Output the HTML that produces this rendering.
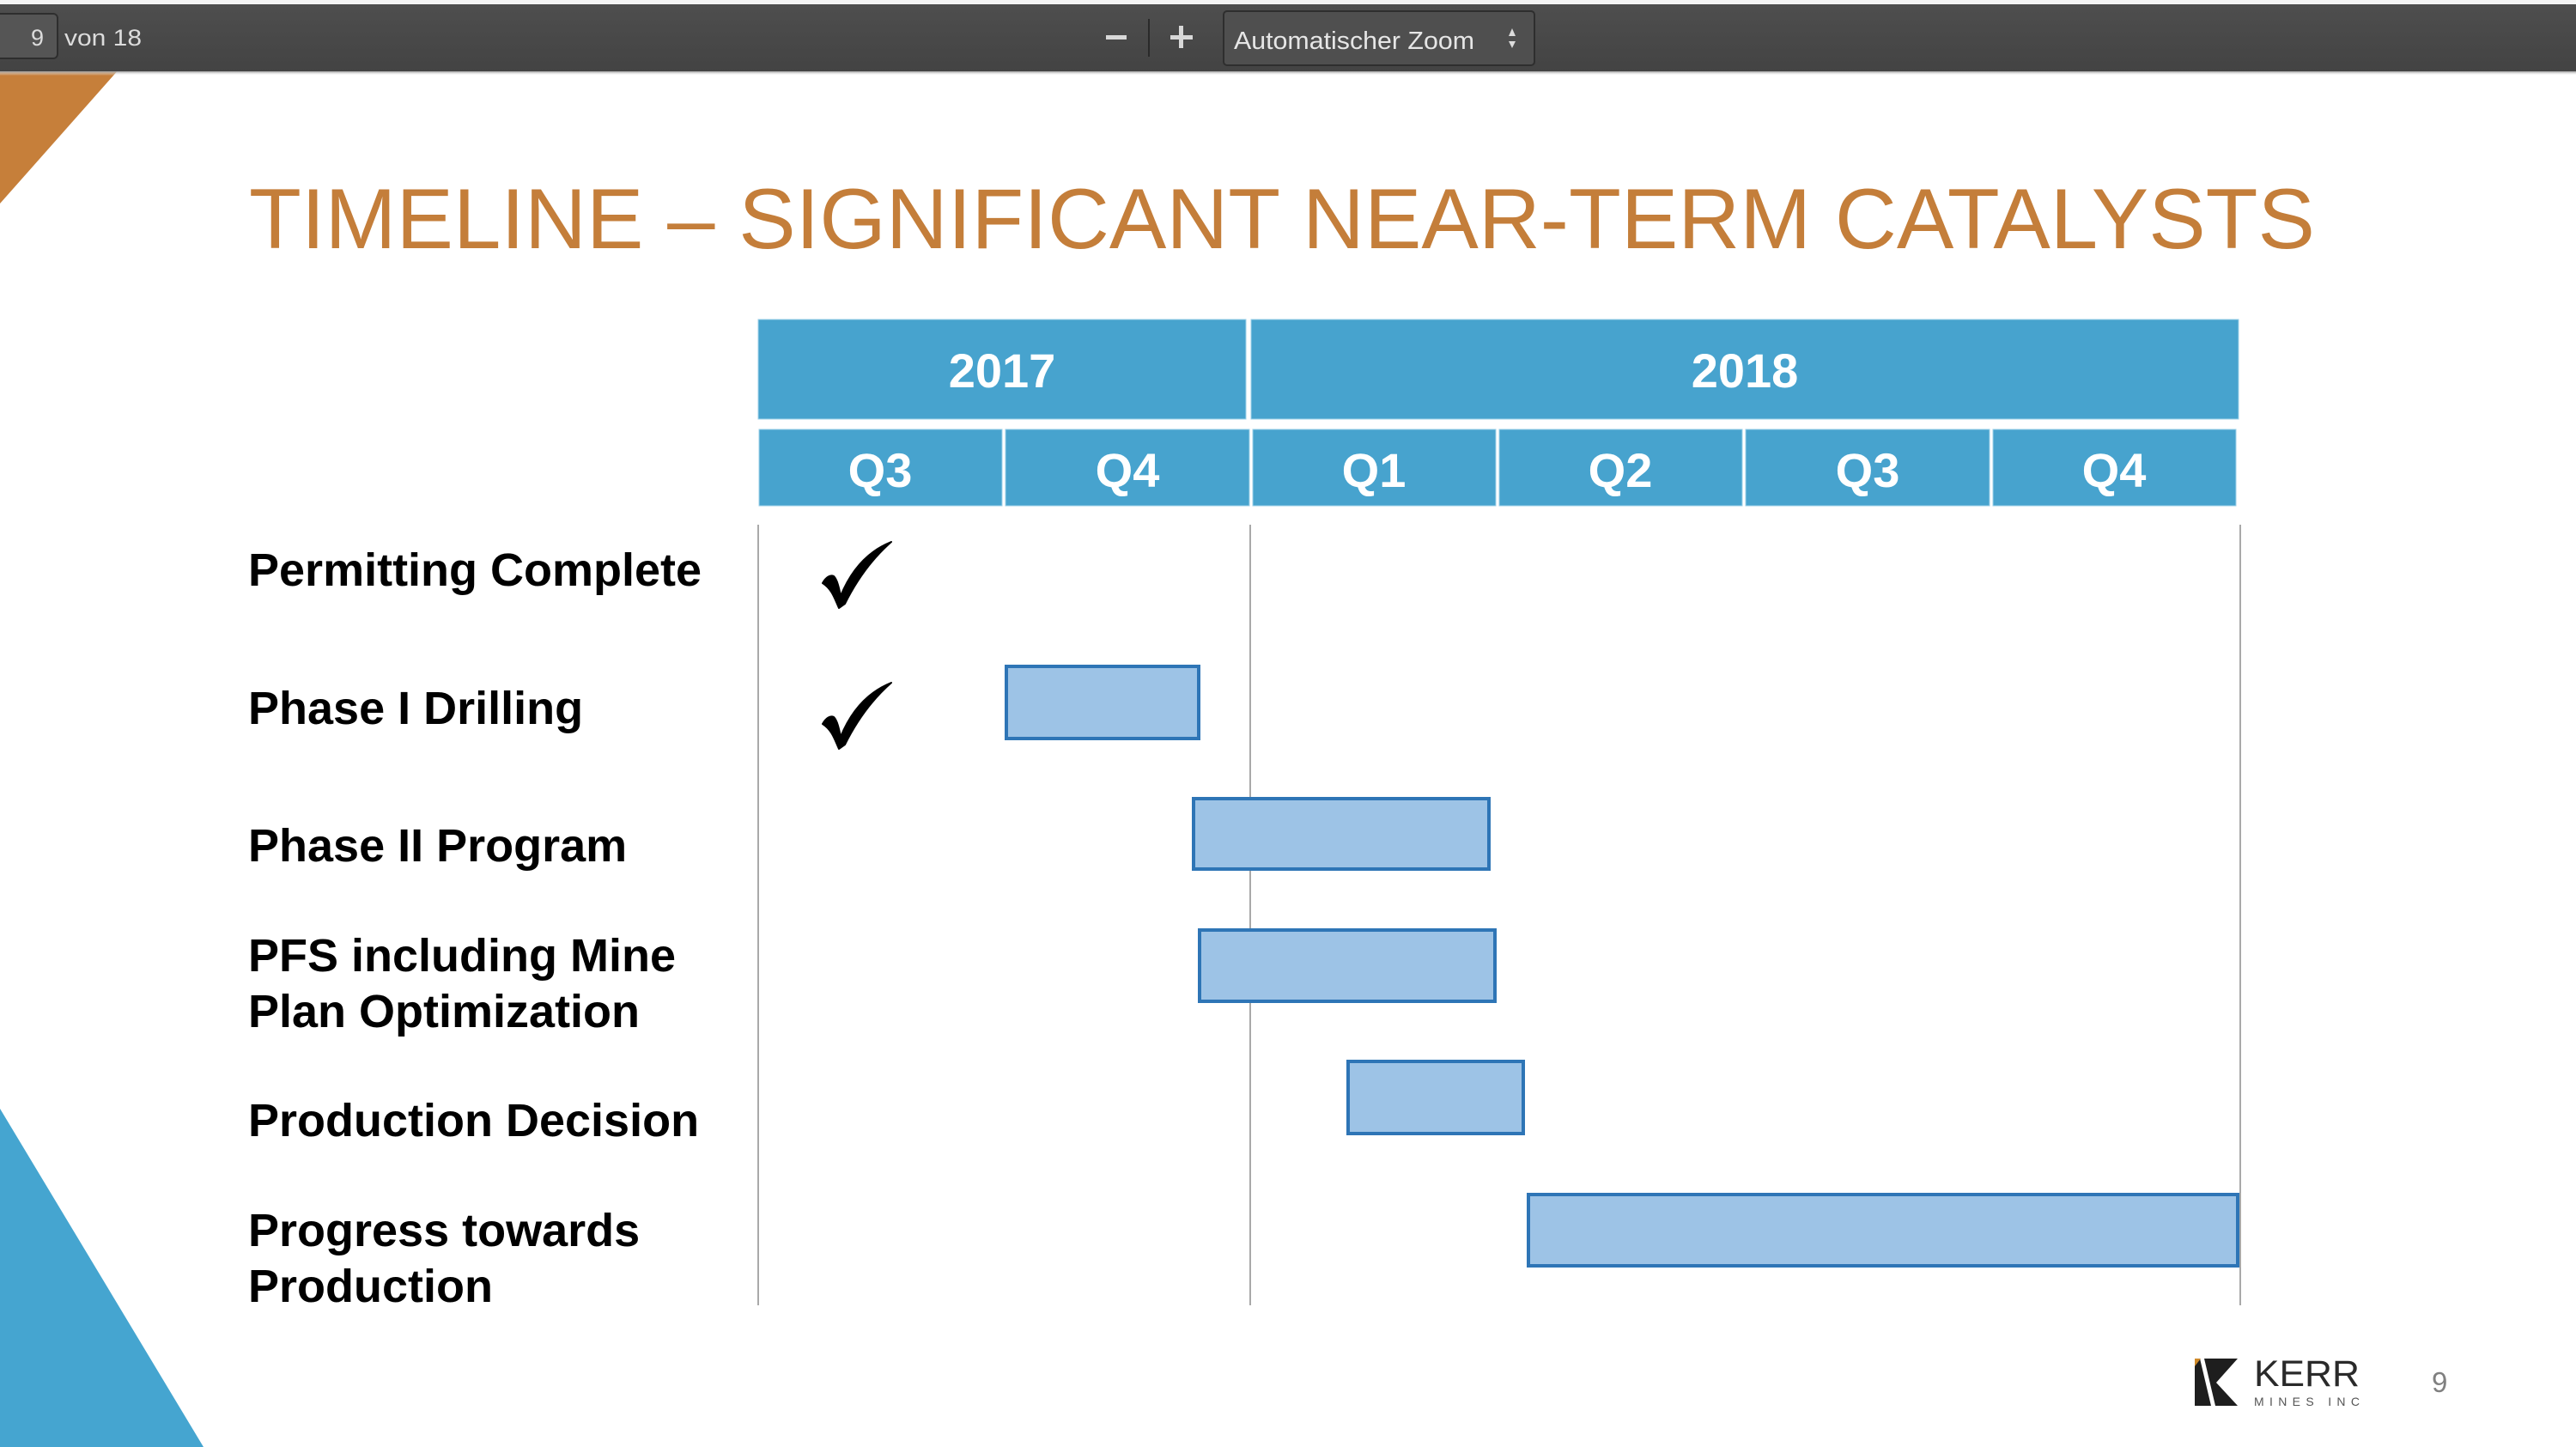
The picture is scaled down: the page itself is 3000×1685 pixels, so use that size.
<!DOCTYPE html>
<html>
<head>
<meta charset="utf-8">
<style>
  html, body { margin:0; padding:0; background:#ffffff; }
  body { width:3000px; height:1685px; overflow:hidden; }
  svg { display:block; }
</style>
</head>
<body>
<svg width="3000" height="1685" viewBox="0 0 3000 1685" xmlns="http://www.w3.org/2000/svg">
  <defs>
    <linearGradient id="tb" x1="0" y1="0" x2="0" y2="1">
      <stop offset="0" stop-color="#4e4e4e"/>
      <stop offset="1" stop-color="#434343"/>
    </linearGradient>
    <linearGradient id="sh" x1="0" y1="0" x2="0" y2="1">
      <stop offset="0" stop-color="#9a9a9a"/>
      <stop offset="1" stop-color="#ffffff" stop-opacity="0"/>
    </linearGradient>
  </defs>

  <!-- background -->
  <rect x="0" y="0" width="3000" height="1685" fill="#ffffff"/>

  <!-- orange corner triangle -->
  <polygon points="0,0 210,0 0,237" fill="#C67F3A"/>
  <!-- blue corner triangle -->
  <polygon points="0,1291 237,1685 0,1685" fill="#45A5D0"/>

  <!-- top light strip -->
  <rect x="0" y="0" width="3000" height="5" fill="#f4f4f4"/>

  <!-- toolbar -->
  <rect x="0" y="5" width="3000" height="78" fill="url(#tb)"/>
  <rect x="0" y="83" width="3000" height="5" fill="url(#sh)"/>
  <rect x="-6" y="16" width="73" height="52" rx="5" ry="5" fill="#555555" stroke="#2e2e2e" stroke-width="2"/>
  <text x="51" y="53" font-family="Liberation Sans, sans-serif" font-size="27" fill="#dcdcdc" text-anchor="end">9</text>
  <text x="75" y="53" font-family="Liberation Sans, sans-serif" font-size="27" fill="#dcdcdc" textLength="90" lengthAdjust="spacingAndGlyphs">von 18</text>

  <!-- zoom controls -->
  <rect x="1288" y="41" width="24" height="5" fill="#d8d8d8"/>
  <rect x="1337" y="22" width="2" height="44" fill="#2a2a2a"/>
  <rect x="1363" y="41" width="26" height="5" fill="#d8d8d8"/>
  <rect x="1373" y="30" width="5" height="26" fill="#d8d8d8"/>
  <rect x="1425" y="13" width="362" height="63" rx="4" ry="4" fill="#4f4f4f" stroke="#2e2e2e" stroke-width="2"/>
  <text x="1437" y="57" font-family="Liberation Sans, sans-serif" font-size="29" fill="#e6e6e6" textLength="280" lengthAdjust="spacingAndGlyphs">Automatischer Zoom</text>
  <polygon points="1757,42 1765,42 1761,33" fill="#dcdcdc"/>
  <polygon points="1757,48 1765,48 1761,56" fill="#dcdcdc"/>

  <!-- title -->
  <text x="290" y="289" font-family="Liberation Sans, Arial, sans-serif" font-size="99" fill="#C47E3A" textLength="2406" lengthAdjust="spacingAndGlyphs">TIMELINE – SIGNIFICANT NEAR-TERM CATALYSTS</text>

  <!-- year header -->
  <rect x="883" y="372" width="568" height="116" fill="#47A3CE" stroke="#9dd0e8" stroke-width="1"/>
  <rect x="1457" y="372" width="1150" height="116" fill="#47A3CE" stroke="#9dd0e8" stroke-width="1"/>
  <g font-family="Liberation Sans, Arial, sans-serif" font-weight="bold" font-size="56" fill="#ffffff" text-anchor="middle">
    <text x="1167" y="451">2017</text>
    <text x="2032" y="451">2018</text>
  </g>

  <!-- quarter header -->
  <g fill="#47A3CE" stroke="#9dd0e8" stroke-width="1">
    <rect x="884" y="500" width="283" height="89"/>
    <rect x="1171" y="500" width="284" height="89"/>
    <rect x="1459" y="500" width="283" height="89"/>
    <rect x="1746" y="500" width="283" height="89"/>
    <rect x="2033" y="500" width="284" height="89"/>
    <rect x="2321" y="500" width="283" height="89"/>
  </g>
  <g font-family="Liberation Sans, Arial, sans-serif" font-weight="bold" font-size="56" fill="#ffffff" text-anchor="middle">
    <text x="1025" y="567">Q3</text>
    <text x="1313" y="567">Q4</text>
    <text x="1600" y="567">Q1</text>
    <text x="1887" y="567">Q2</text>
    <text x="2175" y="567">Q3</text>
    <text x="2462" y="567">Q4</text>
  </g>

  <!-- grid lines -->
  <g stroke="#a9a9a9" stroke-width="2">
    <line x1="883" y1="611" x2="883" y2="1520"/>
    <line x1="1456" y1="611" x2="1456" y2="1520"/>
    <line x1="2609" y1="611" x2="2609" y2="1520"/>
  </g>

  <!-- row labels -->
  <g font-family="Liberation Sans, Arial, sans-serif" font-weight="bold" font-size="54" fill="#000000">
    <text x="289" y="682">Permitting Complete</text>
    <text x="289" y="843">Phase I Drilling</text>
    <text x="289" y="1003">Phase II Program</text>
    <text x="289" y="1131">PFS including Mine</text>
    <text x="289" y="1196">Plan Optimization</text>
    <text x="289" y="1323">Production Decision</text>
    <text x="289" y="1451">Progress towards</text>
    <text x="289" y="1516">Production</text>
  </g>

  <!-- check marks -->
  <path d="M958,679 C962,672 967,669 971,671 C975,675 977,684 979,694 C990,667 1008,643 1038,631 C1014,652 996,679 984,703 L977,708 C972,697 969,686 958,679 Z" fill="#000000" stroke="#000000" stroke-width="2" stroke-linejoin="round"/>
  <path d="M958,843 C962,836 967,833 971,835 C975,839 977,848 979,858 C990,831 1008,807 1038,795 C1014,816 996,843 984,867 L977,872 C972,861 969,850 958,843 Z" fill="#000000" stroke="#000000" stroke-width="2" stroke-linejoin="round"/>

  <!-- bars -->
  <g fill="#9DC3E6" stroke="#2E75B6" stroke-width="4">
    <rect x="1172" y="776" width="224" height="84"/>
    <rect x="1390" y="930" width="344" height="82"/>
    <rect x="1397" y="1083" width="344" height="83"/>
    <rect x="1570" y="1236" width="204" height="84"/>
    <rect x="1780" y="1391" width="826" height="83"/>
  </g>

  <!-- logo -->
  <polygon points="2556,1582 2606,1582 2581,1610 2606,1637 2556,1637" fill="#1e1e1e"/>
  <polygon points="2562,1582 2567,1582 2580,1637 2575,1637" fill="#ffffff"/>
  <polygon points="2556,1582 2563,1582 2556,1591" fill="#D08A2A"/>
  <text x="2625" y="1614" font-family="Liberation Sans, sans-serif" font-size="43" fill="#2a2a2a" textLength="123" lengthAdjust="spacingAndGlyphs">KERR</text>
  <text x="2625" y="1637" font-family="Liberation Sans, sans-serif" font-size="14" fill="#555555" textLength="123" lengthAdjust="spacing">MINES INC</text>

  <!-- page number -->
  <text x="2832" y="1621" font-family="Liberation Sans, sans-serif" font-size="33" fill="#808080">9</text>
</svg>
</body>
</html>
